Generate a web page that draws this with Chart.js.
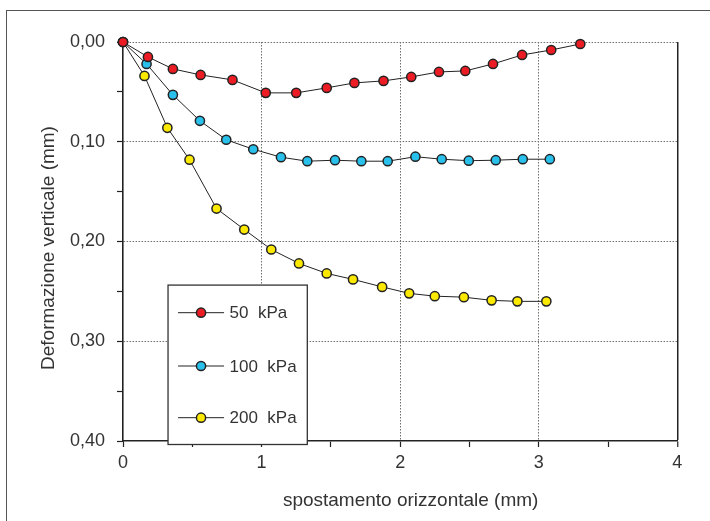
<!DOCTYPE html>
<html>
<head>
<meta charset="utf-8">
<script src="https://cdn.jsdelivr.net/npm/chart.js@4/dist/chart.umd.min.js"></script>
<style>
html,body{margin:0;padding:0;background:#fff;}
canvas{display:block;}
</style>
</head>
<body>
<canvas id="c" width="710" height="521"></canvas>
<script>
// ---- data ----
const seriesLabels = ['50  kPa', '100  kPa', '200  kPa'];
const seriesColors = ['#ec1c24', '#2ac0ec', '#fbe900'];

const x50  = [0, 0.18, 0.36, 0.56, 0.79, 1.03, 1.25, 1.47, 1.67, 1.88, 2.08, 2.28, 2.47, 2.67, 2.88, 3.09, 3.30];
const y50  = [0, 0.015, 0.027, 0.033, 0.038, 0.051, 0.051, 0.046, 0.041, 0.039, 0.035, 0.030, 0.029, 0.022, 0.013, 0.008, 0.002];

const x100 = [0, 0.17, 0.36, 0.555, 0.745, 0.94, 1.14, 1.33, 1.53, 1.72, 1.91, 2.11, 2.30, 2.495, 2.69, 2.885, 3.08];
const y100 = [0, 0.022, 0.053, 0.079, 0.098, 0.1075, 0.1155, 0.1195, 0.1185, 0.1195, 0.1195, 0.115, 0.1175, 0.119, 0.1185, 0.1175, 0.1175];

const x200 = [0, 0.155, 0.32, 0.48, 0.675, 0.875, 1.07, 1.27, 1.47, 1.66, 1.87, 2.065, 2.25, 2.46, 2.66, 2.846, 3.055];
const y200 = [0, 0.034, 0.086, 0.118, 0.167, 0.188, 0.208, 0.222, 0.232, 0.238, 0.2455, 0.252, 0.2548, 0.2558, 0.259, 0.260, 0.260];

const xTickLabels = ['0', '1', '2', '3', '4'];
const yTickLabels = ['0,00', '0,10', '0,20', '0,30', '0,40'];

const xTitle = 'spostamento orizzontale (mm)';
const yTitle = 'Deformazione verticale (mm)';

// ---- build ----
const FONT = '"Liberation Sans", Arial, sans-serif';
const TXT = '#333333';
const AX = '#222222';
const GRID = '#6e6e6e';

function pts(xs, ys) { return xs.map((x, i) => ({x: x, y: ys[i]})); }
const allSeries = [[x50, y50], [x100, y100], [x200, y200]];

const datasets = allSeries.map((s, i) => ({
  label: seriesLabels[i],
  data: pts(s[0], s[1]),
  borderColor: AX,
  borderWidth: 1,
  backgroundColor: seriesColors[i],
  pointBackgroundColor: seriesColors[i],
  pointBorderColor: AX,
  pointBorderWidth: 1.5,
  pointRadius: 4.6,
  pointHoverRadius: 4.6,
  tension: 0,
  clip: false
}));

function isMajor(v) { return Math.abs(Math.round(v) - v) < 1e-6; }
function isMajorY(v) { return Math.abs(Math.round(v * 10) - v * 10) < 1e-6; }

const frame = {
  id: 'frame',
  beforeDraw(chart) {
    const ctx = chart.ctx;
    ctx.save();
    ctx.strokeStyle = '#555';
    ctx.lineWidth = 1;
    ctx.strokeRect(6.5, 10.5, 900, 700);
    ctx.restore();
  }
};

const axisTitles = {
  id: 'axisTitles',
  afterDraw(chart) {
    const ctx = chart.ctx;
    const a = chart.chartArea;
    ctx.save();
    ctx.fillStyle = TXT;
    ctx.font = '19px ' + FONT;
    ctx.textAlign = 'center';
    ctx.textBaseline = 'middle';
    ctx.fillText(xTitle, (a.left + a.right) / 2 + 10.5, 501);
    ctx.translate(49, (a.top + a.bottom) / 2 + 6.5);
    ctx.rotate(-Math.PI / 2);
    ctx.fillText(yTitle, 0, 0);
    ctx.restore();
  }
};

const boxLegend = {
  id: 'boxLegend',
  afterDatasetsDraw(chart) {
    const ctx = chart.ctx;
    const xs = chart.scales.x, ys = chart.scales.y;
    const L = xs.getPixelForValue(0.325), R = xs.getPixelForValue(1.33);
    const T = ys.getPixelForValue(0.2437), B = 444.5;
    ctx.save();
    ctx.fillStyle = '#fff';
    ctx.fillRect(L, T, R - L, B - T);
    ctx.strokeStyle = '#333';
    ctx.lineWidth = 1.3;
    ctx.strokeRect(L, T, R - L, B - T);
    const rowY = [312.7, 366, 417.7];
    chart.data.datasets.forEach((ds, i) => {
      const y = rowY[i];
      ctx.beginPath();
      ctx.strokeStyle = AX;
      ctx.lineWidth = 1;
      ctx.moveTo(L + 10, y);
      ctx.lineTo(L + 56, y);
      ctx.stroke();
      ctx.beginPath();
      ctx.arc(L + 33, y, 4.6, 0, Math.PI * 2);
      ctx.fillStyle = ds.pointBackgroundColor;
      ctx.fill();
      ctx.lineWidth = 1.5;
      ctx.strokeStyle = AX;
      ctx.stroke();
      ctx.fillStyle = TXT;
      ctx.font = '17px ' + FONT;
      ctx.textBaseline = 'middle';
      ctx.textAlign = 'left';
      ctx.fillText(ds.label, L + 61.5, y + 1);
    });
    ctx.restore();
  }
};

new Chart(document.getElementById('c'), {
  type: 'line',
  data: { datasets: datasets },
  options: {
    responsive: false,
    animation: false,
    events: [],
    layout: { padding: { left: 0, top: 42, right: 32.7, bottom: 0 } },
    plugins: { legend: { display: false }, tooltip: { enabled: false } },
    scales: {
      x: {
        type: 'linear',
        min: 0, max: 4,
        afterFit(s) { s.height = 80; },
        ticks: {
          stepSize: 0.5,
          autoSkip: false,
          maxRotation: 0,
          padding: 5,
          color: TXT,
          font: { family: FONT, size: 18 },
          callback: (v) => isMajor(v) ? xTickLabels[Math.round(v)] : ''
        },
        grid: {
          drawOnChartArea: true,
          color: (c) => {
            const v = c.tick ? c.tick.value : 0;
            if (!isMajor(v) || v === 0) return 'rgba(0,0,0,0)';
            if (v === 4) return AX;
            return GRID;
          },
          lineWidth: (c) => (c.tick && c.tick.value === 4) ? 1.5 : 1,
          tickColor: AX,
          tickLength: 6,
          tickWidth: 1.2
        },
        border: {
          display: true, color: AX, width: 1.6,
          dash: (c) => (c.tick && c.tick.value === 4) ? [] : [1.5, 1.5]
        },
        title: { display: false }
      },
      y: {
        type: 'linear',
        reverse: true,
        min: 0, max: 0.4,
        afterFit(s) { s.width = 123; },
        ticks: {
          stepSize: 0.05,
          autoSkip: false,
          padding: 12,
          color: TXT,
          font: { family: FONT, size: 18 },
          callback: (v) => isMajorY(v) ? yTickLabels[Math.round(v * 10)] : ''
        },
        grid: {
          drawOnChartArea: true,
          color: (c) => {
            const v = c.tick ? c.tick.value : 0;
            if (!isMajorY(v) || Math.abs(v - 0.4) < 1e-6) return 'rgba(0,0,0,0)';
            return GRID;
          },
          lineWidth: 1,
          tickColor: AX,
          tickLength: 6,
          tickWidth: 1.2
        },
        border: { display: true, color: AX, width: 1.6, dash: [1.5, 1.5] },
        title: { display: false }
      }
    }
  },
  plugins: [frame, boxLegend, axisTitles]
});
</script>
</body>
</html>
